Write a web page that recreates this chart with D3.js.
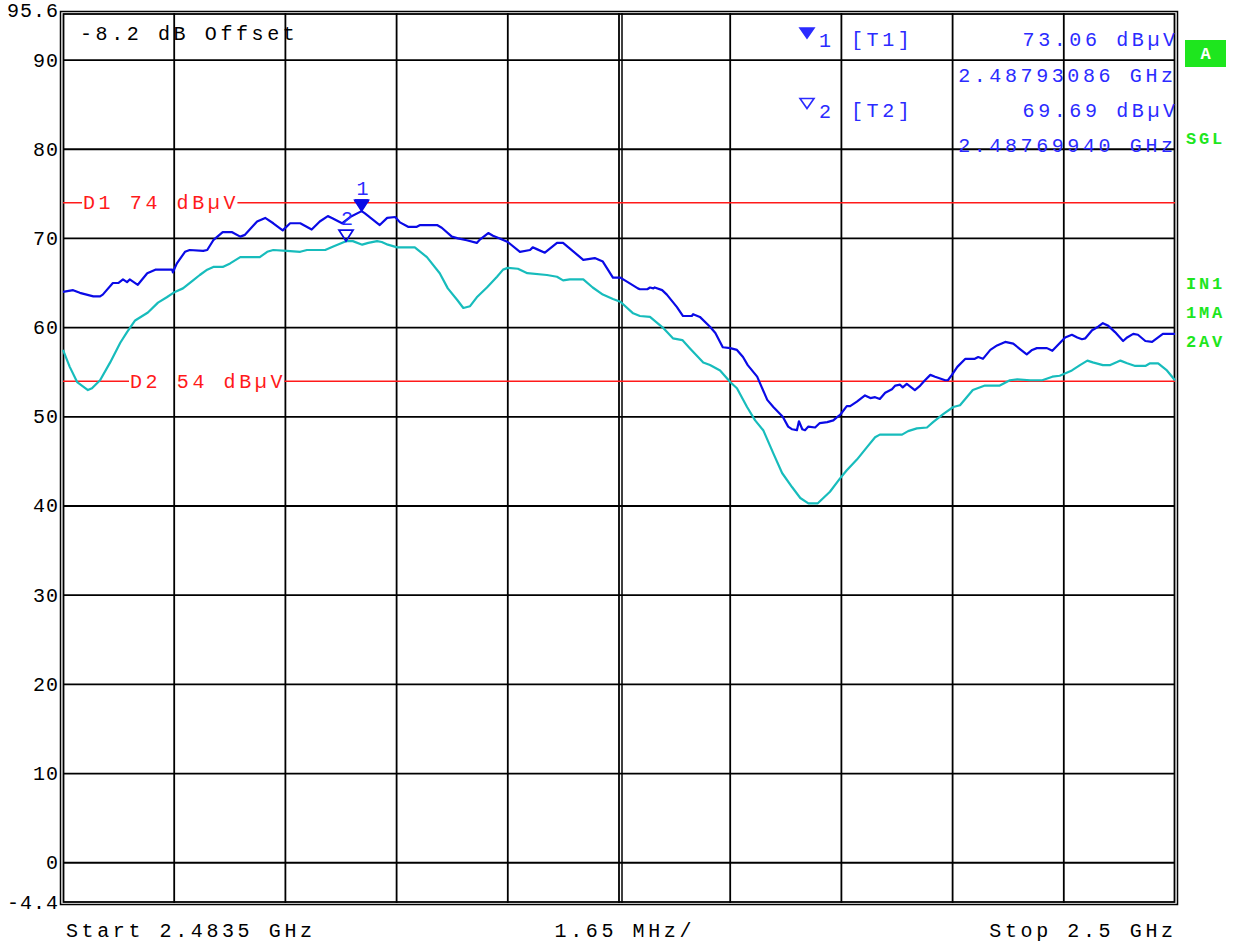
<!DOCTYPE html>
<html><head><meta charset="utf-8">
<script src="https://cdn.jsdelivr.net/npm/d3@7"></script>
<style>
html,body{margin:0;padding:0;background:#fff}
svg text{font-family:"Liberation Mono","DejaVu Sans Mono",monospace}
</style></head><body>
<svg id="chart" width="1236" height="944"></svg>
<script>
// Sweep settings (MHz)
const startMHz = 2483.5;
const stopMHz = 2500.0;
const refTop = 95.6, refBottom = -4.4;

// Level axis ticks (dBµV)
const yTickValues = [95.6, 90, 80, 70, 60, 50, 40, 30, 20, 10, 0, -4.4];
const yTickLabels = ["95.6", "90", "80", "70", "60", "50", "40", "30", "20", "10", "0", "-4.4"];

// Limit display lines
const limitNames = ["D1", "D2"];
const limitLevels = [74, 54];

// Trace 1: max hold (MHz, dBµV)
const maxFreq = [2483.50,2483.65,2483.75,2483.95,2484.05,2484.09,2484.24,2484.32,2484.39,2484.45,2484.49,2484.61,2484.75,2484.87,2485.12,2485.13,2485.19,2485.31,2485.38,2485.58,2485.64,2485.73,2485.87,2486.01,2486.13,2486.20,2486.38,2486.50,2486.62,2486.76,2486.87,2487.02,2487.19,2487.31,2487.43,2487.49,2487.64,2487.76,2487.93086,2487.98,2488.20,2488.31,2488.43,2488.50,2488.62,2488.75,2488.80,2489.05,2489.12,2489.27,2489.36,2489.49,2489.64,2489.69,2489.81,2489.88,2489.98,2490.10,2490.28,2490.43,2490.47,2490.53,2490.65,2490.83,2490.92,2491.22,2491.39,2491.51,2491.66,2491.77,2491.88,2492.03,2492.06,2492.17,2492.21,2492.26,2492.28,2492.39,2492.46,2492.61,2492.70,2492.83,2492.85,2492.95,2493.10,2493.18,2493.29,2493.40,2493.50,2493.59,2493.66,2493.80,2493.84,2493.95,2494.04,2494.18,2494.26,2494.32,2494.39,2494.42,2494.47,2494.51,2494.56,2494.66,2494.73,2494.84,2494.93,2494.99,2495.03,2495.13,2495.18,2495.28,2495.40,2495.48,2495.55,2495.62,2495.70,2495.80,2495.85,2495.92,2495.96,2496.02,2496.14,2496.22,2496.29,2496.37,2496.44,2496.59,2496.63,2496.69,2496.77,2496.89,2497.03,2497.08,2497.15,2497.26,2497.36,2497.48,2497.60,2497.70,2497.80,2497.88,2497.95,2498.10,2498.18,2498.37,2498.47,2498.55,2498.62,2498.67,2498.77,2498.86,2498.93,2499.01,2499.11,2499.23,2499.29,2499.38,2499.45,2499.56,2499.66,2499.73,2499.82,2500.00];
const maxLevel = [64.0,64.2,63.9,63.5,63.5,63.7,65.0,65.0,65.4,65.1,65.4,64.8,66.1,66.5,66.5,66.2,67.2,68.5,68.7,68.6,68.7,69.8,70.7,70.7,70.2,70.4,71.9,72.3,71.7,70.9,71.7,71.7,71.0,71.9,72.5,72.3,71.7,72.4,73.06,72.8,71.5,72.3,72.4,71.8,71.3,71.3,71.5,71.5,71.2,70.2,70.0,69.8,69.5,69.9,70.6,70.3,70.0,69.6,68.5,68.7,69.0,68.8,68.4,69.5,69.5,67.6,67.8,67.4,65.6,65.6,65.1,64.4,64.3,64.3,64.5,64.4,64.5,64.2,63.7,62.3,61.3,61.3,61.5,61.2,60.1,59.4,57.8,57.7,57.5,56.7,55.8,54.5,53.8,51.9,51.1,50.0,48.9,48.6,48.5,49.5,48.6,48.5,48.9,48.8,49.3,49.4,49.6,50.0,50.2,51.2,51.2,51.7,52.4,52.1,52.2,52.0,52.7,53.1,53.5,53.6,53.3,53.7,53.0,53.5,54.1,54.7,54.5,54.1,54.1,54.7,55.6,56.5,56.5,56.7,56.5,57.5,58.0,58.4,58.2,57.6,57.0,57.5,57.7,57.7,57.4,58.9,59.2,58.9,58.7,58.8,59.7,60.1,60.5,60.2,59.5,58.5,58.9,59.3,59.2,58.5,58.4,58.8,59.3,59.3];

// Trace 2: average (MHz, dBµV)
const avgFreq = [2483.50,2483.60,2483.71,2483.87,2483.93,2484.05,2484.20,2484.35,2484.45,2484.57,2484.76,2484.91,2485.04,2485.16,2485.28,2485.43,2485.53,2485.64,2485.73,2485.87,2485.98,2486.13,2486.42,2486.53,2486.62,2486.82,2487.02,2487.12,2487.39,2487.51,2487.6994,2487.80,2487.94,2488.03,2488.16,2488.23,2488.32,2488.46,2488.72,2488.90,2489.09,2489.21,2489.35,2489.44,2489.54,2489.64,2489.79,2489.94,2490.03,2490.10,2490.25,2490.39,2490.68,2490.83,2490.92,2491.02,2491.22,2491.36,2491.51,2491.66,2491.77,2491.96,2492.06,2492.21,2492.40,2492.55,2492.69,2492.80,2493.00,2493.10,2493.25,2493.40,2493.50,2493.65,2493.77,2493.89,2494.04,2494.17,2494.32,2494.44,2494.56,2494.70,2494.88,2495.03,2495.13,2495.28,2495.43,2495.55,2495.62,2495.95,2496.04,2496.17,2496.32,2496.41,2496.56,2496.71,2496.81,2497.00,2497.18,2497.40,2497.55,2497.66,2497.85,2498.03,2498.18,2498.29,2498.47,2498.59,2498.70,2498.78,2498.93,2499.04,2499.19,2499.29,2499.41,2499.56,2499.63,2499.75,2499.88,2500.00];
const avgLevel = [57.5,55.6,53.9,53.0,53.2,54.1,56.1,58.3,59.5,60.8,61.7,62.8,63.4,64.0,64.4,65.3,65.9,66.5,66.8,66.8,67.2,67.9,67.9,68.5,68.7,68.6,68.5,68.7,68.7,69.1,69.69,69.7,69.3,69.5,69.7,69.6,69.3,69.0,69.0,67.9,66.1,64.4,63.1,62.2,62.4,63.4,64.5,65.7,66.5,66.7,66.6,66.1,65.9,65.7,65.3,65.4,65.4,64.5,63.7,63.2,62.9,61.6,61.3,61.2,60.0,58.8,58.6,57.7,56.1,55.8,55.2,53.9,53.2,51.1,49.6,48.5,45.9,43.7,42.1,40.9,40.3,40.3,41.6,43.1,44.0,45.2,46.6,47.7,48.0,48.0,48.4,48.7,48.8,49.4,50.3,51.1,51.3,53.0,53.5,53.5,54.1,54.2,54.1,54.1,54.5,54.6,55.2,55.8,56.3,56.1,55.8,55.8,56.3,56.0,55.7,55.7,56.0,56.0,55.2,54.1];

// Markers
const markerNames = ["1", "2"];
const markerTraces = ["T1", "T2"];
const markerFreqGHz = [2.48793086, 2.48769940];
const markerLevels = [73.06, 69.69];

// Instrument status annotations
const statusLabels = ["SGL", "IN1", "1MA", "2AV"];

// ---------------------------------------------------------------
const svg = d3.select("#chart");
const L = 63, R = 1175, T = 10.1, B = 902;
const x = d3.scaleLinear().domain([startMHz, stopMHz]).range([L, R]);
const y = d3.scaleLinear().domain([refBottom, refTop]).range([B, T]);

const BLUE_TXT = "#2b2bff", TRACE1 = "#0a0ae6", TRACE2 = "#17bcbc", RED = "#ff1a1a", GREEN = "#1ee61e";
const FS = 20, LS = 3.6;            // annotation font size and letter spacing

function label(g, txt, px, py, anchor, color, opts = {}) {
  const ls = opts.ls !== undefined ? opts.ls : LS;
  let dx = 0;
  if (anchor === "end") dx = ls; else if (anchor === "middle") dx = ls / 2;
  return g.append("text").attr("x", px + dx).attr("y", py)
    .attr("text-anchor", anchor).attr("fill", color)
    .attr("font-size", opts.fs || FS).attr("font-weight", opts.fw || "normal")
    .style("letter-spacing", ls + "px").text(txt);
}

// grid
const grid = svg.append("g");
const vLines = d3.range(1, 10).map(i => startMHz + i * (stopMHz - startMHz) / 10);
grid.selectAll("line.v").data(vLines).join("line")
  .attr("x1", d => x(d)).attr("x2", d => x(d)).attr("y1", 13).attr("y2", 903)
  .attr("stroke", "#000").attr("stroke-width", 1.8);
// centre frequency line is doubled
const cf = (startMHz + stopMHz) / 2;
grid.append("line").attr("x1", x(cf) + 3).attr("x2", x(cf) + 3).attr("y1", 13).attr("y2", 903)
  .attr("stroke", "#000").attr("stroke-width", 1.5);
const hLines = yTickValues.filter(v => v !== refTop && v !== refBottom);
grid.selectAll("line.h").data(hLines).join("line")
  .attr("x1", L).attr("x2", R).attr("y1", d => y(d)).attr("y2", d => y(d))
  .attr("stroke", "#000").attr("stroke-width", 1.8);

// frame (double border)
svg.append("rect").attr("x", 60.5).attr("y", 11.5).attr("width", 1117).attr("height", 893)
  .attr("fill", "none").attr("stroke", "#000").attr("stroke-width", 1.5);
svg.append("rect").attr("x", 63.5).attr("y", 14).attr("width", 1111).attr("height", 888)
  .attr("fill", "none").attr("stroke", "#000").attr("stroke-width", 1.8);

// level axis labels
const ax = svg.append("g");
yTickValues.forEach((v, i) => {
  label(ax, yTickLabels[i], 58, y(v) + 6.5, "end", "#000", { ls: 1 });
});

// limit lines with inline labels
const limLabelX = [83, 130];
limitLevels.forEach((lv, i) => {
  const g = svg.append("g");
  const t = label(g, `${limitNames[i]} ${lv} dBµV`, limLabelX[i], y(lv) + 6.5, "start", RED);
  const w = t.node().getComputedTextLength();
  g.append("line").attr("x1", L).attr("x2", limLabelX[i] - 1).attr("y1", y(lv)).attr("y2", y(lv))
    .attr("stroke", RED).attr("stroke-width", 1.5);
  g.append("line").attr("x1", limLabelX[i] + w - LS + 2).attr("x2", R).attr("y1", y(lv)).attr("y2", y(lv))
    .attr("stroke", RED).attr("stroke-width", 1.5);
});

// traces
const line = d3.line().x(d => x(d[0])).y(d => y(d[1]));
svg.append("path").datum(d3.zip(avgFreq, avgLevel)).attr("d", line)
  .attr("fill", "none").attr("stroke", TRACE2).attr("stroke-width", 2.2).attr("stroke-linejoin", "round");
svg.append("path").datum(d3.zip(maxFreq, maxLevel)).attr("d", line)
  .attr("fill", "none").attr("stroke", TRACE1).attr("stroke-width", 2.2).attr("stroke-linejoin", "round");

// marker symbols on the traces
function tri(cx, tipY, w, h) {
  return `M${cx - w / 2},${tipY - h}L${cx + w / 2},${tipY - h}L${cx},${tipY}Z`;
}
markerNames.forEach((m, i) => {
  const mx = x(markerFreqGHz[i] * 1000), my = y(markerLevels[i]);
  const filled = i === 0;
  svg.append("path").attr("d", tri(mx, my, 14, 11))
    .attr("fill", filled ? TRACE1 : "none").attr("stroke", TRACE1).attr("stroke-width", filled ? 1.5 : 1.8);
  if (filled) svg.append("rect").attr("x", mx - 7).attr("y", my - 12).attr("width", 14).attr("height", 3).attr("fill", TRACE1);
  label(svg, m, mx + 1, my - 16, "middle", BLUE_TXT, { ls: 0 });
});

// marker readout table
const tbl = svg.append("g");
markerNames.forEach((m, i) => {
  const rowY = 46 + i * 70.5;
  tbl.append("path").attr("d", tri(807, rowY - 8, 14, 10))
    .attr("fill", i === 0 ? BLUE_TXT : "none").attr("stroke", BLUE_TXT).attr("stroke-width", 1.6);
  label(tbl, m, 819, rowY + 1, "start", BLUE_TXT, { ls: 0 });
  label(tbl, `[${markerTraces[i]}]`, 851, rowY, "start", BLUE_TXT);
  label(tbl, `${markerLevels[i].toFixed(2)} dBµV`, R, rowY, "end", BLUE_TXT);
  label(tbl, `${markerFreqGHz[i].toFixed(8)} GHz`, R - 2, rowY + 35.5, "end", BLUE_TXT);
});

// offset annotation
label(svg, "-8.2 dB Offset", 80, 40, "start", "#000");

// frequency annotations
const span = stopMHz - startMHz;
label(svg, `Start ${(startMHz / 1000).toFixed(4)} GHz`, 66, 937, "start", "#000");
label(svg, `${(span / 10).toFixed(2)} MHz/`, 623, 937, "middle", "#000");
label(svg, `Stop ${(stopMHz / 1000).toFixed(1)} GHz`, 1173, 937, "end", "#000");

// status annotations at the right side
const side = svg.append("g");
side.append("rect").attr("x", 1185).attr("y", 40).attr("width", 41).attr("height", 27).attr("fill", GREEN);
label(side, "A", 1205.5, 59, "middle", "#fff", { fs: 17, fw: "bold", ls: 0 });
const sideY = [144, 289, 318, 347];
statusLabels.forEach((s, i) => label(side, s, 1186, sideY[i], "start", GREEN, { fs: 17, fw: "bold", ls: 2.8 }));
</script>
</body></html>
